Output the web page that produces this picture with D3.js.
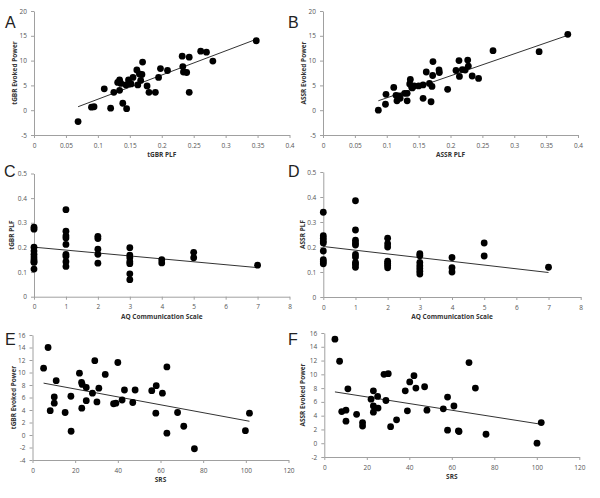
<!DOCTYPE html>
<html><head><meta charset="utf-8">
<script src="https://cdn.jsdelivr.net/npm/d3@7"></script>
<style>
body{margin:0;background:#fff}
svg{display:block}
text{font-family:"Open Sans","Liberation Sans",sans-serif}
</style>
</head><body><svg id="c" width="600" height="498"></svg>
<script>
// ---- Panel A: tGBR PLF vs tGBR Evoked Power
const aX = [0.069,0.090,0.094,0.110,0.120,0.125,0.131,0.134,0.134,0.136,0.139,0.144,0.145,0.148,0.152,0.155,0.161,0.1625,0.165,0.167,0.169,0.170,0.177,0.180,0.190,0.195,0.198,0.209,0.232,0.233,0.234,0.239,0.243,0.243,0.261,0.270,0.280,0.348];
const aY = [-2.3,0.6,0.7,4.3,0.4,3.6,5.6,6.1,4.0,5.4,1.4,5.1,0.3,6.1,5.3,6.6,8.1,5.1,7.3,6.0,7.2,9.7,4.9,3.6,3.6,6.6,8.4,8.0,10.9,8.8,7.7,7.6,10.7,3.6,11.9,11.7,9.9,14.0];
const aTrend = [[0.069,0.7],[0.348,14.3]];
// ---- Panel B: ASSR PLF vs ASSR Evoked Power
const bX = [0.0868,0.098,0.0988,0.111,0.1145,0.116,0.118,0.119,0.121,0.128,0.132,0.132,0.136,0.137,0.139,0.140,0.143,0.150,0.157,0.157,0.162,0.167,0.1695,0.171,0.172,0.1725,0.182,0.1825,0.1955,0.2086,0.2133,0.214,0.2185,0.223,0.227,0.228,0.234,0.244,0.2667,0.339,0.384];
const bY = [0.0,1.2,3.2,4.6,3.0,1.9,2.6,2.9,2.4,3.4,3.4,1.9,5.3,6.2,4.7,4.5,4.9,4.9,5.1,2.4,7.7,5.4,1.7,4.8,7.0,9.8,8.1,7.6,4.2,8.0,10.0,6.8,8.2,8.1,10.1,8.9,6.9,6.4,12.0,11.8,15.3];
const bTrend = [[0.0868,1.9],[0.384,15.1]];
// ---- Panel C: AQ Communication Scale vs tGBR PLF
const cX = [0,0,0,0,0,0,0,0,0,0, 1,1,1,1,1,1,1,1,1, 2,2,2,2,2, 3,3,3,3,3,3,3, 4,4, 5,5, 7];
const cY = [0.282,0.274,0.201,0.185,0.172,0.161,0.150,0.142,0.139,0.112, 0.353,0.266,0.247,0.238,0.212,0.172,0.164,0.142,0.123, 0.245,0.236,0.193,0.172,0.136, 0.199,0.169,0.158,0.142,0.134,0.093,0.069, 0.150,0.137, 0.180,0.158, 0.128];
const cTrend = [[0,0.201],[7,0.118]];
// ---- Panel D: AQ Communication Scale vs ASSR PLF
const dX = [0,0,0,0,0,0,0,0,0, 1,1,1,1,1,1,1,1,1,1, 2,2,2,2,2,2,2, 3,3,3,3,3,3,3, 4,4,4, 5,5, 7];
const dY = [0.339,0.245,0.235,0.224,0.216,0.184,0.149,0.141,0.133, 0.385,0.268,0.227,0.216,0.208,0.170,0.160,0.138,0.130,0.119, 0.235,0.213,0.200,0.143,0.135,0.127,0.117, 0.173,0.165,0.138,0.125,0.114,0.103,0.092, 0.158,0.117,0.100, 0.216,0.164, 0.119];
const dTrend = [[0,0.202],[7,0.098]];
// ---- Panel E: SRS vs tGBR Evoked Power
const eX = [5.2,7.3,8.3,10.2,10.2,11.1,15.3,18.0,18.1,22.0,23.0,23.3,23.1,25.2,25.2,28.1,29.2,30.2,31.1,34.1,38.0,39.1,40.0,42.0,43.1,47.0,48.1,55.9,57.8,58.0,60.9,63.0,63.0,68.0,70.9,75.9,99.8,101.7];
const eY = [10.7,14.0,3.9,6.1,5.1,8.7,3.6,6.2,0.6,9.9,8.4,8.1,4.3,7.6,5.5,6.7,11.9,5.3,7.5,9.7,5.0,5.1,11.6,5.6,7.2,5.2,7.2,7.1,3.5,7.9,6.7,10.9,0.3,3.6,1.4,-2.2,0.7,3.5];
const eTrend = [[5.2,8.3],[101.7,2.2]];
// ---- Panel F: SRS vs ASSR Evoked Power
const fX = [5.0,7.2,8.2,10.2,10.2,11.1,15.2,18.0,18.0,22.0,23.1,23.1,23.1,25.1,25.3,28.1,29.0,30.1,31.2,34.0,38.1,39.1,40.2,42.2,43.1,47.2,48.3,56.0,58.0,58.0,61.0,63.1,63.4,68.1,71.1,76.1,100.1,102.1];
const fY = [15.1,11.9,4.6,4.8,3.2,7.9,4.2,3.0,2.5,6.4,7.6,5.4,4.5,6.8,5.1,10.0,6.2,10.1,2.4,3.4,7.6,4.7,8.9,9.8,8.0,8.2,4.8,5.0,6.7,1.9,5.4,1.8,1.7,11.7,8.0,1.3,0.0,3.0];
const fTrend = [[5.0,7.45],[102.1,2.75]];

// ---- tick values
const plfTicks = [0,0.05,0.1,0.15,0.2,0.25,0.3,0.35,0.4];
const powerTicks20 = [-5,0,5,10,15,20];
const aqTicks = [0,1,2,3,4,5,6,7,8];
const plfTicks05 = [0,0.1,0.2,0.3,0.4,0.5];
const srsTicks = [0,20,40,60,80,100,120];
const powerTicksE = [-4,-2,0,2,4,6,8,10,12,14,16];
const powerTicksF = [-2,0,2,4,6,8,10,12,14,16];

// ---- labels
const panelLetters = ["A","B","C","D","E","F"];
const xTitles = ["tGBR PLF","ASSR PLF","AQ Communication Scale","AQ Communication Scale","SRS","SRS"];
const yTitles = ["tGBR Evoked Power","ASSR Evoked Power","tGBR PLF","ASSR PLF","tGBR Evoked Power","ASSR Evoked Power"];

// ---- layout (pixels)
const panels = [
  {xs:aX, ys:aY, tr:aTrend, xd:[0,0.4], yd:[-5,20], xt:plfTicks, yt:powerTicks20, L:34, R:289.5, T:11, B:135, letter:[5,28], yTitleX:15},
  {xs:bX, ys:bY, tr:bTrend, xd:[0,0.4], yd:[-5,20], xt:plfTicks, yt:powerTicks20, L:323, R:578, T:11, B:135, letter:[288,28], yTitleX:304},
  {xs:cX, ys:cY, tr:cTrend, xd:[0,8], yd:[0,0.5], xt:aqTicks, yt:plfTicks05, L:34, R:289.5, T:173.5, B:296.7, letter:[4,177], yTitleX:12},
  {xs:dX, ys:dY, tr:dTrend, xd:[0,8], yd:[0,0.5], xt:aqTicks, yt:plfTicks05, L:323.3, R:580.7, T:172, B:297, letter:[288,177], yTitleX:303},
  {xs:eX, ys:eY, tr:eTrend, xd:[0,120], yd:[-4,16], xt:srsTicks, yt:powerTicksE, L:32.5, R:288.5, T:335, B:460, letter:[5,345], yTitleX:14},
  {xs:fX, ys:fY, tr:fTrend, xd:[0,120], yd:[-2,16], xt:srsTicks, yt:powerTicksF, L:324.3, R:579.3, T:333, B:457, letter:[288,345], yTitleX:303}
];

const svg = d3.select("#c");
const fmt = d => String(+(+d).toFixed(3));

panels.forEach((p,i) => {
  const x = d3.scaleLinear().domain(p.xd).range([p.L,p.R]);
  const y = d3.scaleLinear().domain(p.yd).range([p.B,p.T]);
  const g = svg.append("g");

  const xa = g.append("g").attr("transform",`translate(0,${p.B})`)
    .call(d3.axisBottom(x).tickValues(p.xt).tickFormat(fmt).tickSize(3).tickPadding(5).tickSizeOuter(0));
  const ya = g.append("g").attr("transform",`translate(${p.L},0)`)
    .call(d3.axisLeft(y).tickValues(p.yt).tickFormat(fmt).tickSize(3).tickPadding(4).tickSizeOuter(0));
  [xa,ya].forEach(a => {
    a.select(".domain").attr("stroke","#a0a0a0");
    a.selectAll(".tick line").attr("stroke","#a0a0a0");
    a.selectAll(".tick text").attr("fill","#555").style("font-size","6.5px");
  });

  g.append("line")
    .attr("x1",x(p.tr[0][0])).attr("y1",y(p.tr[0][1]))
    .attr("x2",x(p.tr[1][0])).attr("y2",y(p.tr[1][1]))
    .attr("stroke","#333").attr("stroke-width",1);

  g.selectAll("circle").data(p.xs.map((v,k)=>[v,p.ys[k]])).join("circle")
    .attr("cx",d=>x(d[0])).attr("cy",d=>y(d[1])).attr("r",3.4).attr("fill","#000");

  g.append("text").attr("x",(p.L+p.R)/2).attr("y",p.B+22)
    .attr("text-anchor","middle").style("font-size","6.5px").style("font-weight","bold")
    .attr("fill","#333").text(xTitles[i]);

  g.append("text").attr("transform",`translate(${p.yTitleX},${(p.T+p.B)/2}) rotate(-90)`)
    .attr("text-anchor","middle").attr("dy","0.35em").style("font-size","6.5px").style("font-weight","bold")
    .attr("fill","#333").text(yTitles[i]);

  svg.append("text").attr("x",p.letter[0]).attr("y",p.letter[1])
    .style("font-family","'Liberation Sans',Arial,sans-serif").style("font-size","16px")
    .attr("fill","#222").text(panelLetters[i]);
});
</script>
</body></html>
